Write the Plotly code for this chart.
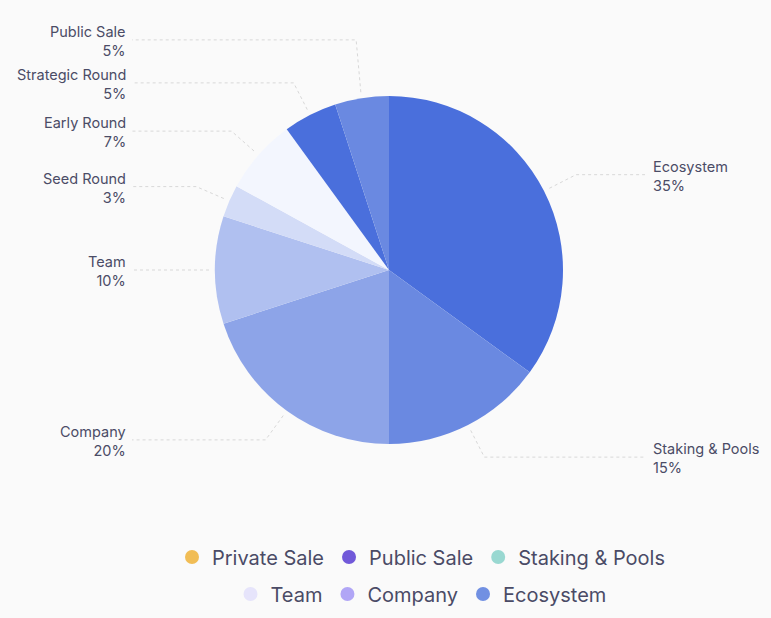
import math
import plotly.graph_objects as go

# pie slices, clockwise from 12 o'clock
labels = ["Ecosystem", "Staking & Pools", "Company", "Team", "Seed Round",
          "Early Round", "Strategic Round", "Public Sale"]
values = [35, 15, 20, 10, 3, 7, 5, 5]
slice_colors = ["#4a6fdc", "#6a89e1", "#8da4e8", "#b0c0f0", "#d3dcf7",
                "#f3f6fe", "#4a6fdc", "#6a89e1"]

# separate legend (does not follow the pie)
legend_names = ["Private Sale", "Public Sale", "Staking & Pools",
                "Team", "Company", "Ecosystem"]
legend_colors = ["#f1bd55", "#7159d9", "#99d8d1",
                 "#e6e4fb", "#b1a6f6", "#7190e2"]

W, H = 771, 618
cx, cy, R = 389, 270, 174
LEFT_EDGE, RIGHT_EDGE = 132, 645
LABEL_GAP = 43
TEXT_COLOR = "#4b4c66"

fig = go.Figure()

fig.add_trace(go.Pie(
    labels=labels, values=values, sort=False, direction="clockwise",
    rotation=0, marker=dict(colors=slice_colors, line=dict(width=0)),
    textinfo="none", hoverinfo="label+percent", showlegend=False,
    domain=dict(x=[(cx - R) / W, (cx + R) / W],
                y=[(H - cy - R) / H, (H - cy + R) / H]),
))

# leader lines + labels, computed from the slice angles
total = sum(values)
items = []
acc = 0
for lab, v in zip(labels, values):
    mid = (acc + v / 2) / total * 2 * math.pi
    acc += v
    s, c = math.sin(mid), math.cos(mid)
    p0 = (cx + (R + 6) * s, cy - (R + 6) * c)
    p1 = (cx + (R + 36) * s, cy - (R + 36) * c)
    items.append(dict(label=lab, pct=round(v / total * 100), p0=p0,
                      x1=p1[0], y=p1[1], left=s < 0))

# push overlapping labels apart (bottom to top on each side)
for side in (True, False):
    grp = sorted([it for it in items if it["left"] == side],
                 key=lambda it: -it["y"])
    for lower, upper in zip(grp, grp[1:]):
        if lower["y"] - upper["y"] < LABEL_GAP:
            upper["y"] = lower["y"] - LABEL_GAP

lx, ly = [], []
annotations = []
for it in items:
    edge = LEFT_EDGE if it["left"] else RIGHT_EDGE
    lx += [it["p0"][0], it["x1"], edge, None]
    ly += [it["p0"][1], it["y"], it["y"], None]
    annotations.append(dict(
        x=edge - 4 if it["left"] else edge + 6, y=it["y"] + 1,
        xref="x", yref="y", text=f"{it['label']}<br>{it['pct']}%",
        showarrow=False, xanchor="right" if it["left"] else "left",
        yanchor="middle", align="right" if it["left"] else "left",
        font=dict(size=14.5, color=TEXT_COLOR),
    ))

fig.add_trace(go.Scatter(
    x=lx, y=ly, mode="lines", hoverinfo="skip", showlegend=False,
    line=dict(color="#d8d8d8", width=1, dash="3px,3px"),
))

for i, (name, col) in enumerate(zip(legend_names, legend_colors)):
    fig.add_trace(go.Scatter(
        x=[None], y=[None], mode="markers", name=name,
        marker=dict(size=14, color=col),
        legend="legend" if i < 3 else "legend2",
    ))

legend_style = dict(orientation="h", xanchor="center", x=421 / W,
                    yanchor="middle", bgcolor="rgba(0,0,0,0)",
                    font=dict(size=20, color="#4a4b66"))

fig.update_layout(
    width=W, height=H,
    margin=dict(l=0, r=0, t=0, b=0),
    paper_bgcolor="#fafafa", plot_bgcolor="#fafafa",
    font=dict(family="Inter, Noto Sans, sans-serif"),
    xaxis=dict(range=[0, W], visible=False, fixedrange=True),
    yaxis=dict(range=[H, 0], visible=False, fixedrange=True),
    annotations=annotations,
    legend=dict(y=(H - 557) / H, **legend_style),
    legend2=dict(y=(H - 594) / H, **legend_style),
)

fig.write_html("out.html", config={"displayModeBar": False},
               post_script="document.body.style.margin = '0';")
